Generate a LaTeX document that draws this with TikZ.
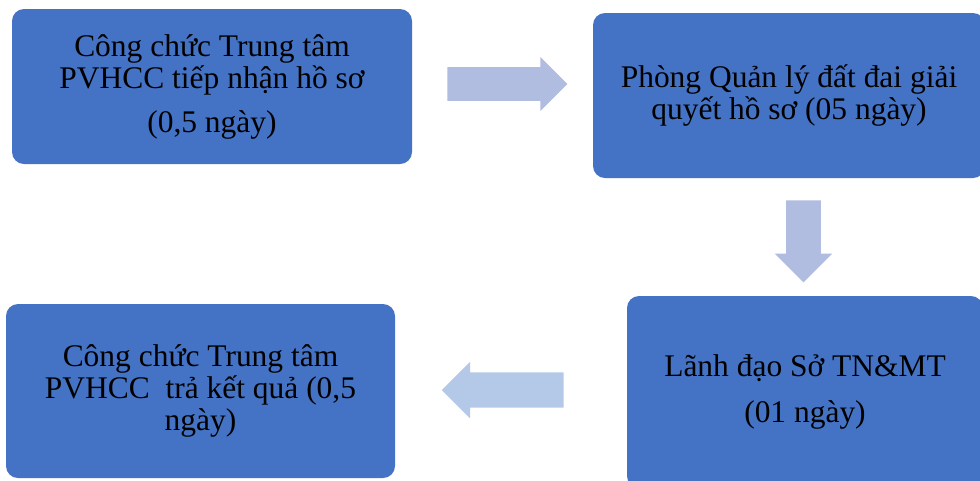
\documentclass[tikz,border=0pt]{standalone}
\usepackage{fontspec}
\setmainfont{Liberation Serif}
\usepackage{xcolor}
\usepackage{tikz}
\usetikzlibrary{shapes.arrows,positioning}
\definecolor{stepblue}{RGB}{68, 114, 196}
\definecolor{arrowlilac}{RGB}{176, 188, 224}
\definecolor{arrowsky}{RGB}{180, 201, 232}

\begin{document}
\begin{tikzpicture}[x=0.75pt, y=-0.75pt,
    stepbox/.style={rectangle, rounded corners=9pt, fill=stepblue, inner sep=0pt,
        align=center, font=\fontsize{23.6}{24}\selectfont},
    flowarrow/.style={single arrow, single arrow tip angle=90, anchor=tail}]
    \useasboundingbox (0,0) rectangle (980,480);
    \clip (0,0) rectangle (980,480);

    % the four steps
    \node[stepbox, minimum width=300pt, minimum height=116.25pt] (receive) at (212,86.5)
        {Công chức Trung tâm\\PVHCC tiếp nhận hồ sơ\\[9pt](0,5 ngày)};
    \node[stepbox, minimum width=294pt, minimum height=123.75pt] (handle) at (789,95.5)
        {Phòng Quản lý đất đai giải\\quyết hồ sơ (05 ngày)};
    \node[stepbox, minimum width=267pt, minimum height=144pt] (approve) at (805,392)
        {Lãnh đạo Sở TN\&MT\\[10pt](01 ngày)};
    \node[stepbox, minimum width=291.75pt, minimum height=130.5pt] (deliver) at (200.5,391)
        {Công chức Trung tâm\\PVHCC\ \ trả kết quả (0,5\\ngày)};

    % block arrows between the steps
    \node[flowarrow, fill=arrowlilac, inner sep=12.4pt, minimum height=90pt,
        single arrow head extend=7.5pt] (toHandle) at (447,84) {};
    \node[flowarrow, fill=arrowlilac, inner sep=12.75pt, minimum height=61.5pt,
        single arrow head extend=8.6pt, shape border rotate=270] (toApprove) at (803.5,200) {};
    \node[flowarrow, fill=arrowsky, inner sep=13.1pt, minimum height=91.5pt,
        single arrow head extend=7.9pt, shape border rotate=180] (toDeliver) at (564,390) {};
\end{tikzpicture}
\end{document}
